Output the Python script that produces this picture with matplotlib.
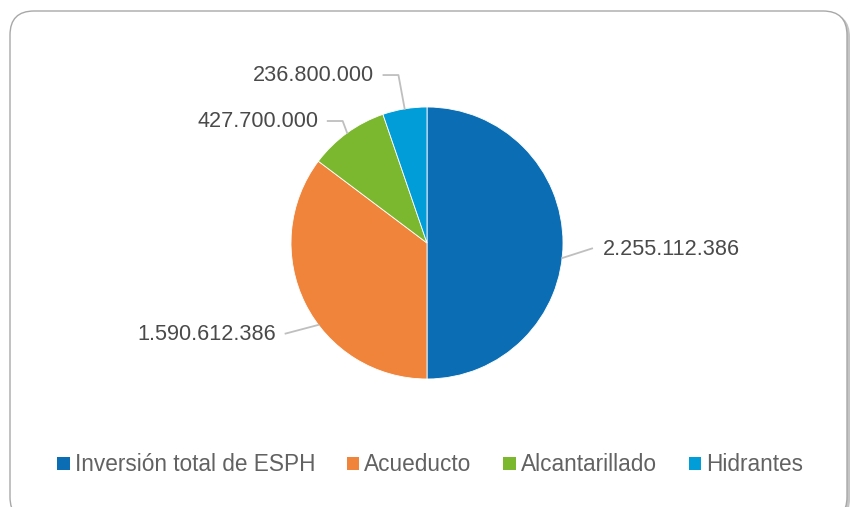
import numpy as np
import matplotlib
matplotlib.use("Agg")
import matplotlib.pyplot as plt
from matplotlib.patches import FancyBboxPatch, Patch

plt.rcParams['font.family'] = ['Liberation Sans', 'DejaVu Sans']

# data
categories = ["Inversión total de ESPH", "Acueducto", "Alcantarillado", "Hidrantes"]
values = [2255112386, 1590612386, 427700000, 236800000]
colors = ["#0B6EB5", "#F0843A", "#7CB82F", "#009DD9"]

# label layout (pie radius units): x, y, ha, elbow
label_layout = [(1.294, -0.05, "left", False),
                (-1.11, -0.676, "right", False),
                (-0.80, 0.897, "right", True),
                (-0.39, 1.235, "right", True)]

W, H = 850, 507
fig = plt.figure(figsize=(W / 100, H / 100), dpi=100)

# frame
bg = fig.add_axes([0, 0, 1, 1])
bg.set_xlim(0, W)
bg.set_ylim(H, 0)
bg.axis("off")
shadow = FancyBboxPatch((12, 13), 838, 510, boxstyle="round,pad=0,rounding_size=24",
                        fc="#C4C4C4", ec="none", zorder=1)
frame = FancyBboxPatch((10, 11), 837, 510, boxstyle="round,pad=0,rounding_size=24",
                       fc="white", ec="#A8A8A8", lw=1.0, zorder=2)
bg.add_patch(shadow)
bg.add_patch(frame)

# pie
cx, cy, r = 427, 243, 136
ax = fig.add_axes([(cx - r) / W, (H - cy - r) / H, 2 * r / W, 2 * r / H])
wedges, _ = ax.pie(values, colors=colors, startangle=90, counterclock=False,
                   wedgeprops=dict(edgecolor="white", linewidth=0.6))
ax.set_xlim(-1, 1)
ax.set_ylim(-1, 1)
ax.axis("off")

line_c = "#BFBFBF"
for w, v, (tx, ty, ha, elbow) in zip(wedges, values, label_layout):
    txt = f"{v:,}".replace(",", ".")
    ax.text(tx, ty, txt, ha=ha, va="center", fontsize=15.6, color="#4A4A4A")
    if ha == "left":
        sx = tx - 0.08
    else:
        sx = tx + 0.07
    mid = (w.theta1 + w.theta2) / 2
    half = (w.theta2 - w.theta1) / 2
    if elbow:
        # elbow leaders point at the middle of the slice
        ang = np.deg2rad(mid)
        ex = sx + 0.11
        xs, ys = [sx, ex, np.cos(ang)], [ty, ty, np.sin(ang)]
    else:
        # straight leaders aim toward the centre, kept inside the slice
        a = np.rad2deg(np.arctan2(ty, sx))
        d = ((a - mid + 180) % 360) - 180
        d = np.clip(d, -half + 3, half - 3)
        ang = np.deg2rad(mid + d + (4 if ha == "right" else -4))
        xs, ys = [sx, np.cos(ang)], [ty + 0.01, np.sin(ang)]
    ax.plot(xs, ys, color=line_c, lw=1.3, clip_on=False)

handles = [Patch(facecolor=c, edgecolor="none") for c in colors]
fig.legend(handles, categories, loc="center", bbox_to_anchor=(0.506, 0.083),
           ncol=4, frameon=False, fontsize=16.3, handlelength=0.56, handleheight=0.56,
           handletextpad=0.22, columnspacing=1.4, labelcolor="#626262")

fig.savefig("out.png", dpi=100)
